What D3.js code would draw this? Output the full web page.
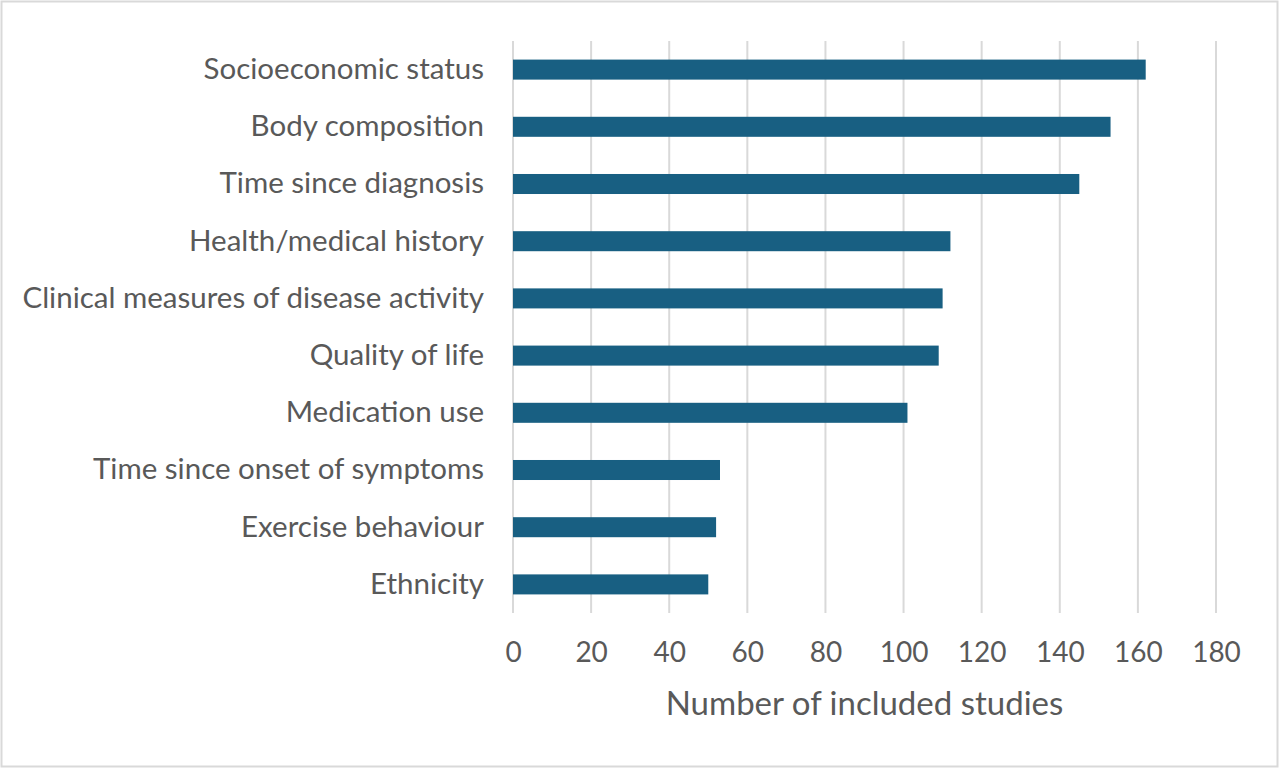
<!DOCTYPE html>
<html>
<head>
<meta charset="utf-8">
<script src="https://cdn.jsdelivr.net/npm/d3@7"></script>
<style>
  body { margin: 0; background: #fff; }
  svg { display: block; }
  text { font-family: Lato, "Open Sans", sans-serif; fill: #595959; }
</style>
</head>
<body>
<div id="chart"></div>
<script>
var categories = ["Socioeconomic status", "Body composition", "Time since diagnosis",
    "Health/medical history", "Clinical measures of disease activity", "Quality of life",
    "Medication use", "Time since onset of symptoms", "Exercise behaviour", "Ethnicity"];
var studies = [162, 153, 145, 112, 110, 109, 101, 53, 52, 50];
var xTicks = [0, 20, 40, 60, 80, 100, 120, 140, 160, 180];
var axisTitle = "Number of included studies";

var W = 1280, H = 769;
var margin = {top: 41, right: 64, bottom: 156, left: 513};
var width = W - margin.left - margin.right,
    height = H - margin.top - margin.bottom;

var data = categories.map(function(c, i){ return {name: c, value: studies[i]}; });

var svg = d3.select("#chart").append("svg")
    .attr("width", W)
    .attr("height", H);

// outer border
svg.append("rect")
    .attr("x", 1.5).attr("y", 1.5)
    .attr("width", W - 4).attr("height", H - 4)
    .attr("fill", "none")
    .attr("stroke", "#d9d9d9")
    .attr("stroke-width", 2);

var g = svg.append("g")
    .attr("transform", `translate(${margin.left},${margin.top})`);

var x = d3.scaleLinear()
    .domain([0, 180])
    .range([0, width]);

var y = d3.scaleBand()
    .domain(categories)
    .range([0, height])
    .paddingInner(0.65)
    .paddingOuter(0.325);

// gridlines
g.selectAll(".grid")
    .data(xTicks)
    .enter()
    .append("line")
    .attr("class", "grid")
    .attr("x1", function(d){ return x(d); })
    .attr("x2", function(d){ return x(d); })
    .attr("y1", 0)
    .attr("y2", height)
    .attr("stroke", "#d9d9d9")
    .attr("stroke-width", 2);

// bars
g.selectAll(".bar")
    .data(data)
    .enter()
    .append("rect")
    .attr("class", "bar")
    .attr("x", x(0))
    .attr("y", function(d){ return y(d.name); })
    .attr("width", function(d){ return x(d.value) - x(0); })
    .attr("height", y.bandwidth())
    .attr("fill", "#185f82");

// x axis
var xAxis = g.append("g")
    .attr("transform", `translate(0,${height})`)
    .call(d3.axisBottom(x).tickValues(xTicks).tickSize(0).tickPadding(29));
xAxis.select(".domain").remove();
xAxis.selectAll("text")
    .style("font-family", "Lato, sans-serif")
    .style("font-size", "28px")
    .attr("fill", "#595959");

// y axis
var yAxis = g.append("g")
    .call(d3.axisLeft(y).tickSize(0).tickPadding(29));
yAxis.select(".domain").remove();
yAxis.selectAll("text")
    .style("font-family", "Lato, sans-serif")
    .style("font-size", "29.5px")
    .attr("fill", "#595959");

// axis title
g.append("text")
    .attr("x", width / 2)
    .attr("y", height + 102)
    .attr("text-anchor", "middle")
    .style("font-size", "33px")
    .text(axisTitle);
</script>
</body>
</html>
